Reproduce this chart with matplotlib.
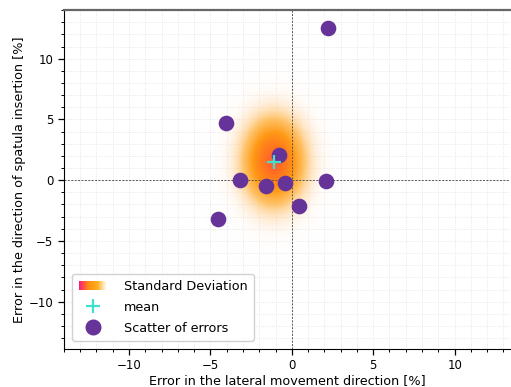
import numpy as np
import matplotlib
matplotlib.use("Agg")
import matplotlib.pyplot as plt
from matplotlib.colors import LinearSegmentedColormap
from matplotlib.patches import Rectangle
from matplotlib.lines import Line2D
from matplotlib.legend_handler import HandlerBase

# data
err_lateral = [2.25, -4.05, -0.8, -3.2, -1.6, -0.43, 2.09, 0.45, -4.56]
err_insertion = [12.5, 4.72, 2.06, 0.0, -0.47, -0.25, -0.1, -2.09, -3.16]
xticks = [-10, -5, 0, 5, 10]
yticks = [-10, -5, 0, 5, 10]

plt.rcParams['font.family'] = ['DejaVu Sans']
plt.rcParams['font.size'] = 8.5

x = np.array(err_lateral)
y = np.array(err_insertion)
mx, my = x.mean(), y.mean()
sx, sy = x.std(), y.std()

fig = plt.figure(figsize=(5.11, 3.87), dpi=100)
ax = fig.add_axes([0.125, 0.098, 0.873, 0.876])

# gradient colormap: transparent white -> orange -> deeppink
cmap = LinearSegmentedColormap.from_list(
    "sd", [(0.0, (1, 1, 1, 0.0)), (0.15, (1, 0.88, 0.75, 0.35)), (0.4, (1, 0.72, 0.3, 0.85)),
           (0.6, (1, 0.6, 0.08, 1.0)), (0.8, (1, 0.45, 0.12, 1.0)), (1.0, (1.0, 0.08, 0.5, 1.0))])

gx = np.linspace(mx - 3 * sx, mx + 3 * sx, 300)
gy = np.linspace(my - 3 * sy, my + 3 * sy, 300)
GX, GY = np.meshgrid(gx, gy)
r2 = ((GX - mx) / sx) ** 2 + ((GY - my) / sy) ** 2
d = np.exp(-0.5 * r2 * 2.4)
ax.imshow(cmap(d * 0.85), extent=[gx[0], gx[-1], gy[0], gy[-1]], origin='lower',
          aspect='auto', zorder=1, interpolation='bilinear')

ax.axhline(0, color='#555555', ls='--', lw=0.7, dashes=(2, 1.5), zorder=2)
ax.axvline(0, color='#555555', ls='--', lw=0.7, dashes=(2, 1.5), zorder=2)

ax.scatter(x, y, s=105, color='#663399', zorder=3, label='Scatter of errors')
ax.plot([mx], [my], marker='+', ms=10, mew=1.6, color='#40E0D0', ls='none', zorder=4, label='mean')

ax.set_xlim(-14, 13.4)
ax.set_ylim(-13.9, 14)
ax.set_xticks(xticks)
ax.set_yticks(yticks)
ax.set_xticks(np.arange(-14, 14, 1), minor=True)
ax.set_yticks(np.arange(-13, 15, 1), minor=True)
ax.tick_params(which='major', length=4, width=0.9, labelsize=8.5)
ax.tick_params(which='minor', length=2.2, width=0.7)
ax.grid(which='both', ls=':', color='#e2e2e2', lw=0.6, zorder=0)
ax.set_axisbelow(True)

ax.spines['right'].set_visible(False)
ax.spines['top'].set_color('#666666')
ax.spines['top'].set_linewidth(1.6)

ax.set_xlabel('Error in the lateral movement direction [%]', fontsize=9.2, labelpad=1)
ax.set_ylabel('Error in the direction of spatula insertion [%]', fontsize=9.2, labelpad=2)


class HandlerGradient(HandlerBase):
    def create_artists(self, legend, orig_handle, xdescent, ydescent, width, height, fontsize, trans):
        n = 40
        arts = []
        colors = LinearSegmentedColormap.from_list(
            "lg", ["#ff1a7a", "#ff8c10", "#ffb020", "#ffffff"])
        for i in range(n):
            c = colors(i / (n - 1))
            rr = Rectangle((-xdescent + width * i / n, -ydescent), width / n + 0.3, height,
                           facecolor=c, edgecolor='none', transform=trans)
            arts.append(rr)
        return arts


grad = Rectangle((0, 0), 1, 1)
hm = Line2D([], [], marker='+', ms=10, mew=1.6, color='#40E0D0', ls='none')
hs = Line2D([], [], marker='o', ms=10.5, color='#663399', ls='none')
leg = ax.legend([grad, hm, hs], ['Standard Deviation', 'mean', 'Scatter of errors'],
                handler_map={Rectangle: HandlerGradient()}, loc='lower left',
                fontsize=9.2, framealpha=0.9, edgecolor='#cccccc', borderpad=0.5,
                handlelength=2.2, handletextpad=1.3, labelspacing=0.6,
                bbox_to_anchor=(0.005, 0.005))
leg.set_zorder(5)

fig.savefig('out.png', dpi=100)
